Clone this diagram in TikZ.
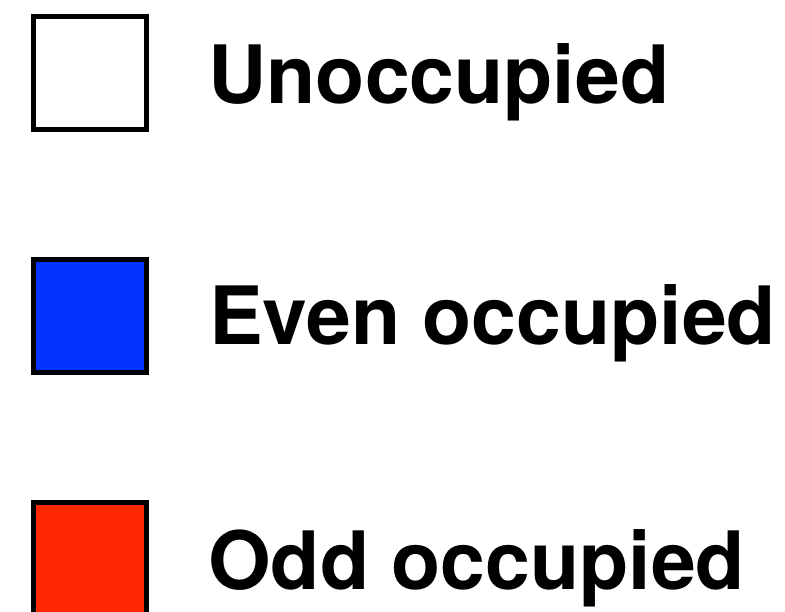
\documentclass[tikz,border=0pt]{standalone}
\usepackage{fontspec}
\setmainfont{TeX Gyre Heros}
\definecolor{evenblue}{RGB}{4,51,255}
\definecolor{oddred}{RGB}{255,38,0}
\usetikzlibrary{positioning}

\begin{document}
\begin{tikzpicture}[x=1pt,y=1pt,
  legbox/.style={draw=black,line width=5pt,minimum size=113pt,inner sep=0pt},
  legtext/.style={anchor=base west,inner sep=0pt,font=\fontsize{80.5}{80.5}\selectfont\bfseries}]
  \useasboundingbox (0,0) rectangle (785,612);
  % Unoccupied
  \node[legbox,fill=white] (unocc) at (90,539) {};
  \node[legtext] (unocctxt) at (208,508) {Unoccupied};
  % Even occupied
  \node[legbox,fill=evenblue] (even) at (90,296) {};
  \node[legtext] (eventxt) at (209,267) {Even occupied};
  % Odd occupied
  \node[legbox,fill=oddred] (odd) at (90,53) {};
  \node[legtext] (oddtxt) at (208,22) {Odd occupied};
\end{tikzpicture}
\end{document}
